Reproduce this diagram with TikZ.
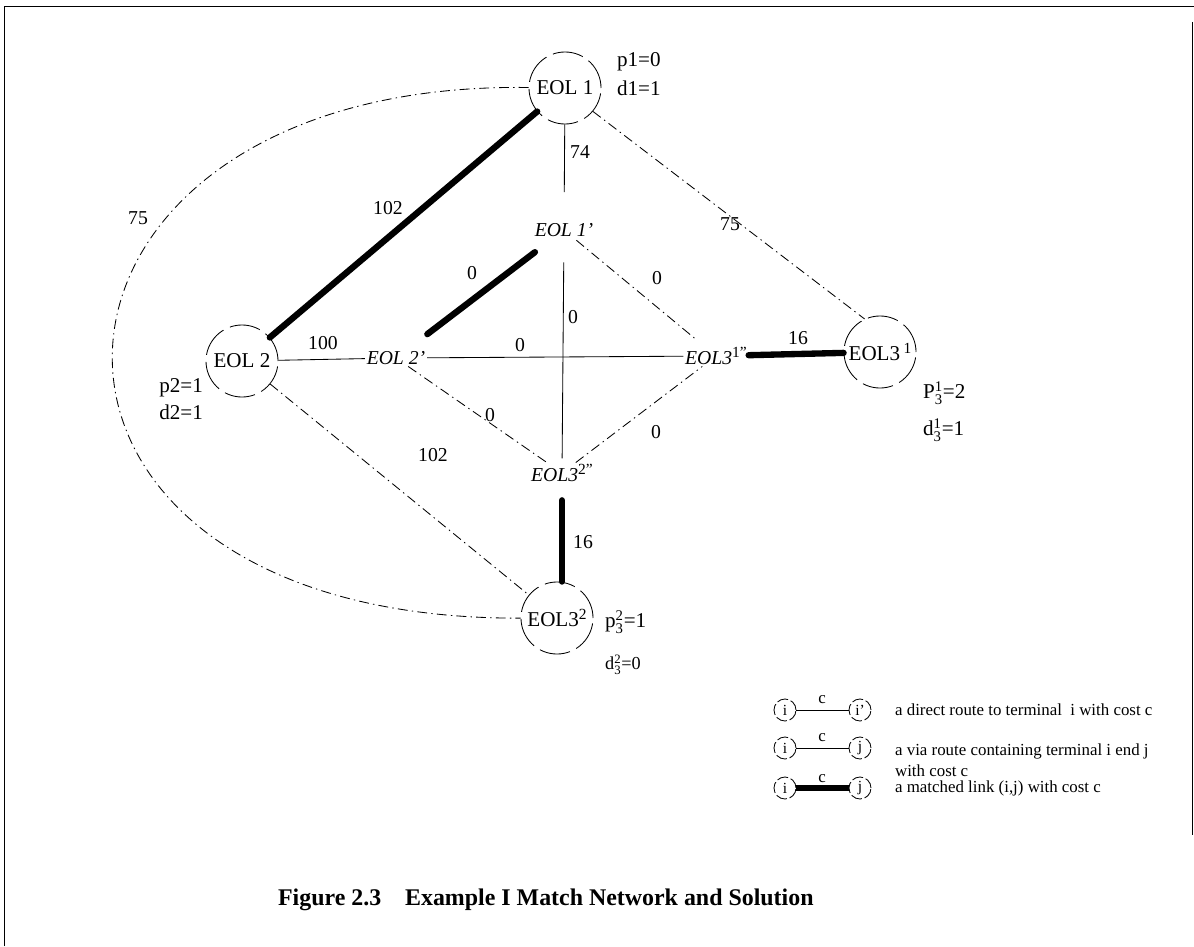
\documentclass[tikz,border=0pt]{standalone}
\usepackage{amsmath}
\usepackage{fontspec}
\setmainfont{Liberation Serif}
\newcommand{\supr}[1]{\raisebox{0.75ex}{\upshape\fontsize{11}{11}\selectfont #1}}

\begin{document}
\begin{tikzpicture}[x=0.025cm,y=-0.025cm,line width=0.6pt,
  term/.style={circle,draw,dash pattern=on 22pt off 5pt,minimum size=1.8cm,inner sep=0pt,
    font=\fontsize{15}{17}\selectfont},
  dummy/.style={inner sep=1pt,font=\fontsize{14}{16}\selectfont\itshape},
  cost/.style={font=\fontsize{14}{16}\selectfont},
  info/.style={font=\fontsize{15}{17}\selectfont},
  direct/.style={line width=0.6pt},
  via/.style={line width=0.6pt,dash pattern=on 7pt off 3pt on 1pt off 3pt},
  matched/.style={line width=4.5pt,line cap=round},
  key/.style={circle,draw,dash pattern=on 8pt off 2pt,minimum size=0.55cm,inner sep=0pt,
    font=\fontsize{11}{12}\selectfont},
  keytext/.style={anchor=west,align=left,font=\fontsize{12}{15}\selectfont}]
\useasboundingbox (0,0) rectangle (1194,946);
% ---- frame ----
\draw (4,946) -- (4,6) -- (1194,6);
\draw (1192,22) -- (1192,835);
% ---- terminals ----
\node[term] (e1) at (565,88) {EOL 1};
\node[term] (e2) at (242,361) {EOL 2};
\node[term] (e31) at (880,352) {EOL3\,\supr{1}};
\node[term] (e32) at (557,618) {EOL3\supr{2}};
% ---- dummy terminals ----
\node[dummy] (e1p) at (564,230) {EOL 1'};
\node[dummy] (e2p) at (396,358) {EOL 2'};
\node[dummy] (e31p) at (716,356) {EOL3\supr{1''}};
\node[dummy] (e32p) at (562,473) {EOL3\supr{2''}};
% ---- direct routes ----
\draw[direct,shorten >=21pt] (e1) -- (e1p);
\draw[direct,shorten <=17pt,shorten >=3pt] (e1p) -- (e32p);
\draw[direct] (e2) -- (e2p);
\draw[direct] (e2p) -- (e31p);
% ---- via routes ----
\draw[via] (e1.-40) -- (e31.115);
\draw[via,shorten <=2pt,shorten >=6pt] (e1p) -- (e31p);
\draw[via] (e2p) -- (e32p);
\draw[via] (e32p) -- (e31p);
\draw[via] (e2) -- (e32);
\draw[via] (e1) .. controls (-10,80) and (-40,620) .. (e32);
% ---- matched links ----
\draw[matched] (e1) -- (e2);
\draw[matched,shorten <=28pt,shorten >=26pt] (e2p.center) -- (e1p.center);
\draw[matched] (e31p) -- (e31);
\draw[matched,shorten <=12pt] (e32p) -- (e32p |- e32.north);
% ---- costs ----
\node[cost] (c74) at (580,152) {74};
\node[cost] (c102a) at (388,208) {102};
\node[cost] (c75a) at (138,218) {75};
\node[cost] (c75b) at (730,224) {75};
\node[cost] (c0a) at (472,273) {0};
\node[cost] (c0b) at (657,278) {0};
\node[cost] (c0c) at (573,317) {0};
\node[cost] (c100) at (323,343) {100};
\node[cost] (c0d) at (520,345) {0};
\node[cost] (c16a) at (798,338) {16};
\node[cost] (c0e) at (490,415) {0};
\node[cost] (c0f) at (656,432) {0};
\node[cost] (c102b) at (433,455) {102};
\node[cost] (c16b) at (583,542) {16};
% ---- potentials and degrees ----
\node[info,anchor=west] (p1) at (612,62) {p1=0};
\node[info,anchor=west] (d1) at (612,88) {d1=1};
\node[info,anchor=east] (p2) at (208,388) {p2=1};
\node[info,anchor=east] (d2) at (208,412) {d2=1};
\node[info,anchor=west] (p31) at (918,393) {P$_{\text{3}}^{\text{1}}$=2};
\node[info,anchor=west] (d31) at (918,430) {d$_{\text{3}}^{\text{1}}$=1};
\node[info,anchor=west] (p32) at (600,622) {p$_{\text{3}}^{\text{2}}$=1};
\node[info,anchor=west,font=\fontsize{13}{15}\selectfont] (d32) at (600,665) {d$_{\text{3}}^{\text{2}}$=0};
% ---- legend ----
\node[key] (ka) at (785,710) {i};
\node[key] (kb) at (860,710) {i'};
\draw[direct] (ka) -- (kb);
\node[keytext,anchor=center] (kca) at (822,700) {c};
\node[keytext] (kta) at (890,710) {a direct route to terminal\ \ i with cost c};
\node[key] (kc) at (785,748) {i};
\node[key] (kd) at (860,748) {j};
\draw[direct] (kc) -- (kd);
\node[keytext,anchor=center] (kcb) at (822,738) {c};
\node[keytext,anchor=north west] (ktb) at (890,739) {a via route containing terminal i end j\\with cost c};
\node[key] (ke) at (785,788) {i};
\node[key] (kf) at (860,788) {j};
\draw[matched,line cap=butt] (ke) -- (kf);
\node[keytext,anchor=center] (kcc) at (822,779) {c};
\node[keytext] (ktc) at (890,788) {a matched link (i,j) with cost c};
% ---- caption ----
\node[anchor=west,font=\fontsize{17}{20}\selectfont\bfseries] (cap) at (273,900)
  {Figure 2.3\quad Example I Match Network and Solution};
\end{tikzpicture}
\end{document}
